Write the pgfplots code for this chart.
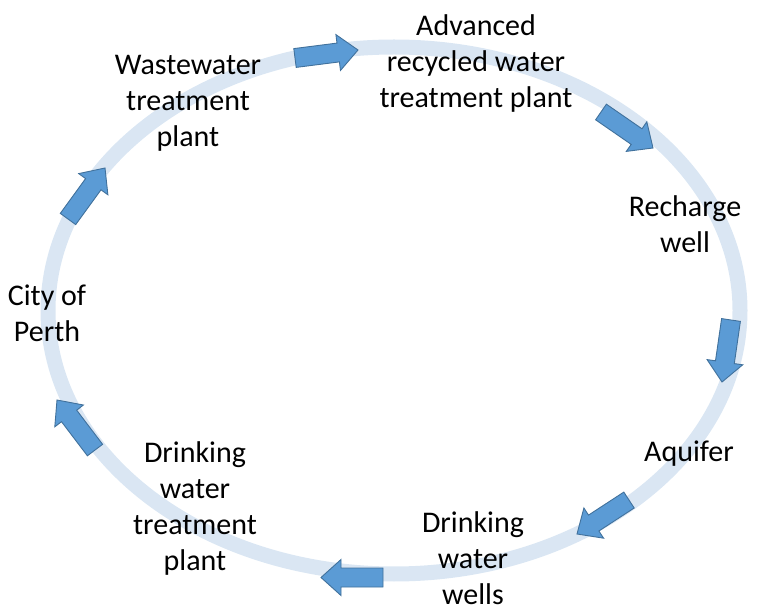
\documentclass[border=0pt]{standalone}
\usepackage{pgfplots}
\pgfplotsset{compat=1.18}
\usepackage{fontspec}
\setmainfont{Carlito}
\definecolor{ringblue}{RGB}{218,230,243}
\definecolor{arrowfill}{RGB}{91,155,213}
\definecolor{arrowborder}{RGB}{65,113,156}
\begin{document}
\begin{tikzpicture}
\begin{axis}[
  width=758pt, height=609pt, scale only axis,
  xmin=0, xmax=758, ymin=0, ymax=609, y dir=reverse,
  hide axis, clip=false,
  arrowst/.style={no markers, fill=arrowfill, draw=arrowborder, line width=0.9pt, line join=miter},
]
\path (axis cs:0,0) rectangle (axis cs:758,609);
\draw[ringblue, line width=15pt] (axis cs:394,310.5) ellipse [x radius=346, y radius=263.5];
% arrows (screen pixel coordinates)
\addplot[arrowst] coordinates {(296.2,67.4) (339.4,61.9) (340.5,70.4) (358,50) (335.9,34.6) (337.0,43.1) (293.8,48.6)} -- cycle;
\addplot[arrowst] coordinates {(595.6,119.8) (631.2,144.4) (626.3,151.4) (653,148) (646.8,121.8) (642.0,128.8) (606.4,104.2)} -- cycle;
\addplot[arrowst] coordinates {(721.6,318.6) (715.5,360.8) (707.1,359.6) (722,382) (742.7,364.8) (734.3,363.6) (740.4,321.4)} -- cycle;
\addplot[arrowst] coordinates {(623.8,492.1) (588.5,515.1) (583.9,508.0) (577,534) (603.6,538.2) (598.9,531.0) (634.2,508.0)} -- cycle;
\addplot[arrowst] coordinates {(383,568) (341,568) (341,559.5) (321,577.5) (341,595.5) (341,587) (383,587)} -- cycle;
\addplot[arrowst] coordinates {(102.6,444.3) (76.7,410.2) (83.4,405.0) (57,400) (54.8,426.8) (61.5,421.7) (87.4,455.8)} -- cycle;
\addplot[arrowst] coordinates {(75.7,224.6) (101.0,189.8) (107.9,194.8) (105,168) (78.7,173.6) (85.6,178.6) (60.3,213.4)} -- cycle;
% labels
\begin{scope}[every node/.style={align=center, font=\fontsize{30}{36}\selectfont, inner sep=0pt}]
\node at (axis cs:188,103) {Wastewater\\treatment\\plant};
\node at (axis cs:476,63.5) {Advanced\\recycled water\\treatment plant};
\node at (axis cs:685,224.5) {Recharge\\well};
\node at (axis cs:47,313) {City of\\Perth};
\node at (axis cs:689,454) {Aquifer};
\node at (axis cs:473,558.5) {Drinking\\water\\wells};
\node at (axis cs:195,509) {Drinking\\water\\treatment\\plant};
\end{scope}
\end{axis}
\end{tikzpicture}
\end{document}
